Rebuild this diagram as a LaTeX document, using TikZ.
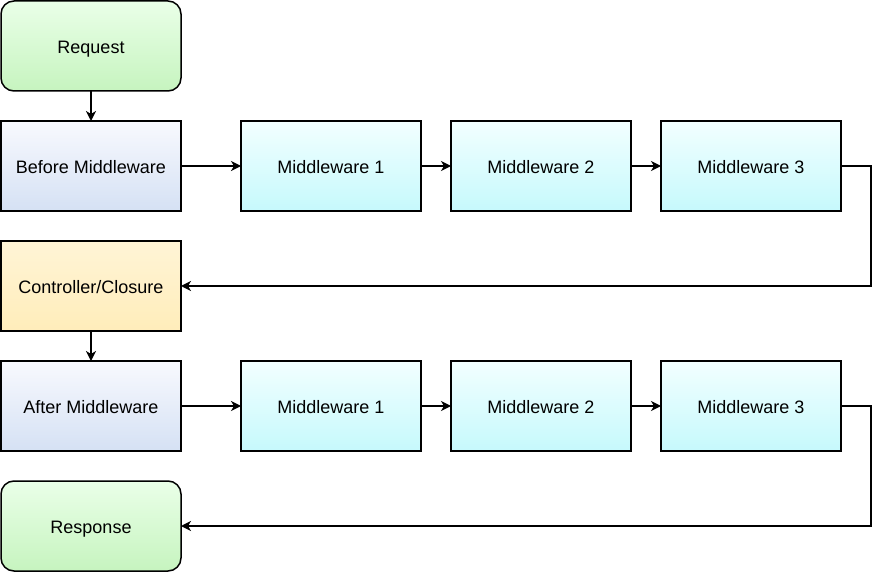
\documentclass[tikz,border=0pt]{standalone}
\usepackage{fontspec}
\setmainfont{Liberation Sans}
\usepackage{tikz}
\usetikzlibrary{positioning,arrows.meta}
\definecolor{greentop}{HTML}{EAFFE8}
\definecolor{greenbot}{HTML}{C6F4BF}
\definecolor{bluetop}{HTML}{F8F9FE}
\definecolor{bluebot}{HTML}{D5E1F4}
\definecolor{cyantop}{HTML}{F2FFFF}
\definecolor{cyanbot}{HTML}{C6F9FC}
\definecolor{yellowtop}{HTML}{FFF4D6}
\definecolor{yellowbot}{HTML}{FFEDBA}
\tikzstyle{box}      = [rectangle, draw=black, line width=1.5pt, minimum width=180pt, minimum height=90pt,
                        inner sep=0pt, outer sep=0pt, text height=16pt, text depth=1pt, text centered,
                        font=\fontsize{18pt}{22pt}\selectfont]
\tikzstyle{endpoint} = [box, rounded corners=13pt, top color=greentop, bottom color=greenbot]
\tikzstyle{phase}    = [box, top color=bluetop, bottom color=bluebot]
\tikzstyle{mware}    = [box, top color=cyantop, bottom color=cyanbot]
\tikzstyle{handler}  = [box, top color=yellowtop, bottom color=yellowbot]
\tikzstyle{arrow}    = [line width=1.5pt, -{Stealth[length=10pt,width=10pt,inset=3pt]}]

\begin{document}
\begin{tikzpicture}[node distance=30pt]
		\useasboundingbox (0,0) rectangle (884pt,-572pt);
		\node[endpoint, anchor=north west] (request) at (1pt,-1pt) {Request};
		\node[phase, below=of request] (before) {Before Middleware};
		\node[mware, right=60pt of before] (bm1) {Middleware 1};
		\node[mware, right=of bm1] (bm2) {Middleware 2};
		\node[mware, right=of bm2] (bm3) {Middleware 3};
		\node[handler, below=of before] (ctrl) {Controller/Closure};
		\node[phase, below=of ctrl] (after) {After Middleware};
		\node[mware, right=60pt of after] (am1) {Middleware 1};
		\node[mware, right=of am1] (am2) {Middleware 2};
		\node[mware, right=of am2] (am3) {Middleware 3};
		\node[endpoint, below=of after] (response) {Response};
		\draw[arrow] (request) -- (before);
		\draw[arrow] (before) -- (bm1);
		\draw[arrow] (bm1) -- (bm2);
		\draw[arrow] (bm2) -- (bm3);
		\draw[arrow] (bm3.east) -- ++(30pt,0) |- (ctrl.east);
		\draw[arrow] (ctrl) -- (after);
		\draw[arrow] (after) -- (am1);
		\draw[arrow] (am1) -- (am2);
		\draw[arrow] (am2) -- (am3);
		\draw[arrow] (am3.east) -- ++(30pt,0) |- (response.east);
	\end{tikzpicture}
\end{document}
